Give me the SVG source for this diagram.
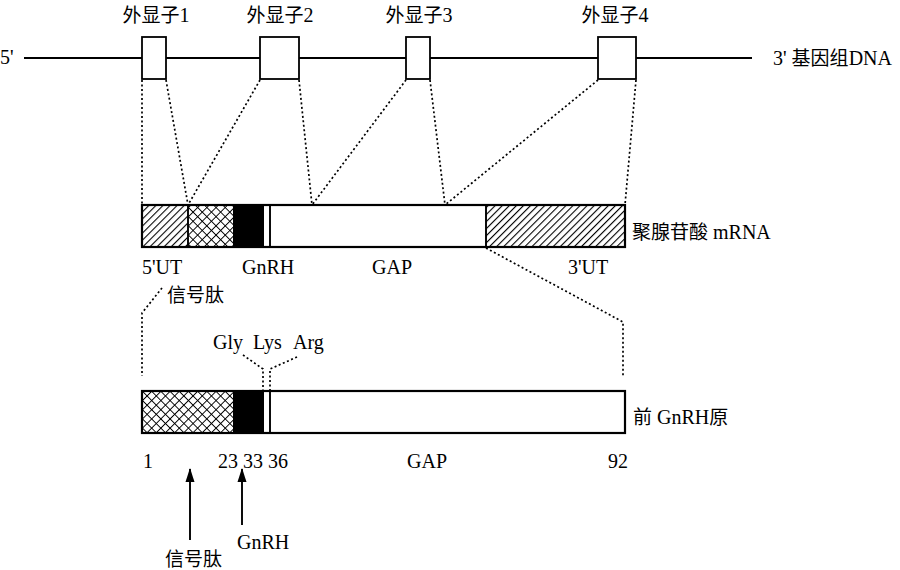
<svg xmlns="http://www.w3.org/2000/svg" width="900" height="570" viewBox="0 0 900 570">
<defs>
<pattern id="hatch" patternUnits="userSpaceOnUse" width="5" height="5" patternTransform="rotate(45)">
<rect width="5" height="5" fill="#fff"/>
<line x1="0" y1="0" x2="0" y2="5" stroke="#000" stroke-width="2.2"/>
</pattern>
<pattern id="cross" patternUnits="userSpaceOnUse" width="6.5" height="6.5" patternTransform="rotate(45)">
<rect width="6.5" height="6.5" fill="#fff"/>
<line x1="0" y1="0" x2="0" y2="6.5" stroke="#000" stroke-width="1.9"/>
<line x1="0" y1="0" x2="6.5" y2="0" stroke="#000" stroke-width="1.9"/>
</pattern>
<marker id="arr" viewBox="0 0 14 10" refX="13" refY="5" markerWidth="14" markerHeight="10" markerUnits="userSpaceOnUse" orient="auto">
<path d="M0,0.5 L14,5 L0,9.5 Z" fill="#000"/>
</marker>
</defs>
<style>
text{font-family:"Liberation Serif","Noto Sans CJK SC",serif;font-size:20px;fill:#000}
.cjk{font-family:"Noto Sans CJK SC","Liberation Serif",sans-serif;font-size:19px}
.box{fill:#fff;stroke:#000;stroke-width:1.8}
.bar{fill:none;stroke:#000;stroke-width:2.2}
.dot{fill:none;stroke:#000;stroke-width:1.7;stroke-dasharray:2 2.5}
.solid{stroke:#000;stroke-width:1.9;fill:none}
</style>

<g id="dna">
<line class="solid" x1="24" y1="58" x2="752" y2="58"/>
<text x="0" y="64">5'</text>
<text x="773" y="65">3' <tspan class="cjk">基因组</tspan>DNA</text>
</g>

<g id="exon1">
<rect class="box" x="142" y="37" width="24" height="42"/>
<text x="156" y="22" text-anchor="middle"><tspan class="cjk">外显子</tspan>1</text>
</g>
<g id="exon2">
<rect class="box" x="260" y="37" width="39" height="42"/>
<text x="280" y="22" text-anchor="middle"><tspan class="cjk">外显子</tspan>2</text>
</g>
<g id="exon3">
<rect class="box" x="406" y="37" width="24" height="42"/>
<text x="419" y="22" text-anchor="middle"><tspan class="cjk">外显子</tspan>3</text>
</g>
<g id="exon4">
<rect class="box" x="598" y="37" width="38" height="42"/>
<text x="615" y="22" text-anchor="middle"><tspan class="cjk">外显子</tspan>4</text>
</g>

<g id="connectors">
<line class="dot" x1="142" y1="80" x2="142" y2="205"/>
<line class="dot" x1="166" y1="80" x2="188" y2="205"/>
<line class="dot" x1="260" y1="80" x2="188" y2="205"/>
<line class="dot" x1="299" y1="80" x2="312" y2="205"/>
<line class="dot" x1="406" y1="80" x2="312" y2="205"/>
<line class="dot" x1="430" y1="80" x2="445" y2="205"/>
<line class="dot" x1="598" y1="80" x2="445" y2="205"/>
<line class="dot" x1="636" y1="80" x2="625" y2="205"/>
<polyline class="dot" points="162,288 142,313 142,376"/>
<polyline class="dot" points="486,248 623,322 623,377"/>
<polyline class="dot" points="243,355 263,369 263,391"/>
<polyline class="dot" points="297,357 270,369 270,391"/>
<line class="solid" x1="190" y1="540" x2="190" y2="469" marker-end="url(#arr)"/>
<line class="solid" x1="242" y1="525" x2="242" y2="469" marker-end="url(#arr)"/>
</g>

<g id="mrna">
<rect x="142" y="205" width="46" height="42" fill="url(#hatch)"/>
<rect x="188" y="205" width="45" height="42" fill="url(#cross)"/>
<rect x="233" y="205" width="31" height="42" fill="#000"/>
<rect x="486" y="205" width="139" height="42" fill="url(#hatch)"/>
<line class="solid" x1="188" y1="205" x2="188" y2="247"/>
<line class="solid" x1="270" y1="205" x2="270" y2="247"/>
<line class="solid" x1="486" y1="205" x2="486" y2="247"/>
<rect class="bar" x="142" y="205" width="483" height="42"/>
<text x="142" y="274">5'UT</text>
<text x="242" y="274">GnRH</text>
<text x="372" y="274">GAP</text>
<text x="568" y="274">3'UT</text>
<text x="632" y="239"><tspan class="cjk">聚腺苷酸</tspan> mRNA</text>
<text class="cjk" x="167" y="302">信号肽</text>
</g>

<g id="precursor">
<rect x="142" y="391" width="91" height="42" fill="url(#cross)"/>
<rect x="233" y="391" width="31" height="42" fill="#000"/>
<line class="solid" x1="270" y1="391" x2="270" y2="433"/>
<rect class="bar" x="142" y="391" width="483" height="42"/>
<text x="213" y="349">Gly</text>
<text x="253" y="349">Lys</text>
<text x="293" y="349">Arg</text>
<text x="633" y="424"><tspan class="cjk">前</tspan> GnRH<tspan class="cjk">原</tspan></text>
<text x="143" y="468">1</text>
<text x="218" y="468">23 33 36</text>
<text x="407" y="468">GAP</text>
<text x="608" y="468">92</text>
<text x="237" y="549">GnRH</text>
<text class="cjk" x="165" y="566">信号肽</text>
</g>
</svg>
